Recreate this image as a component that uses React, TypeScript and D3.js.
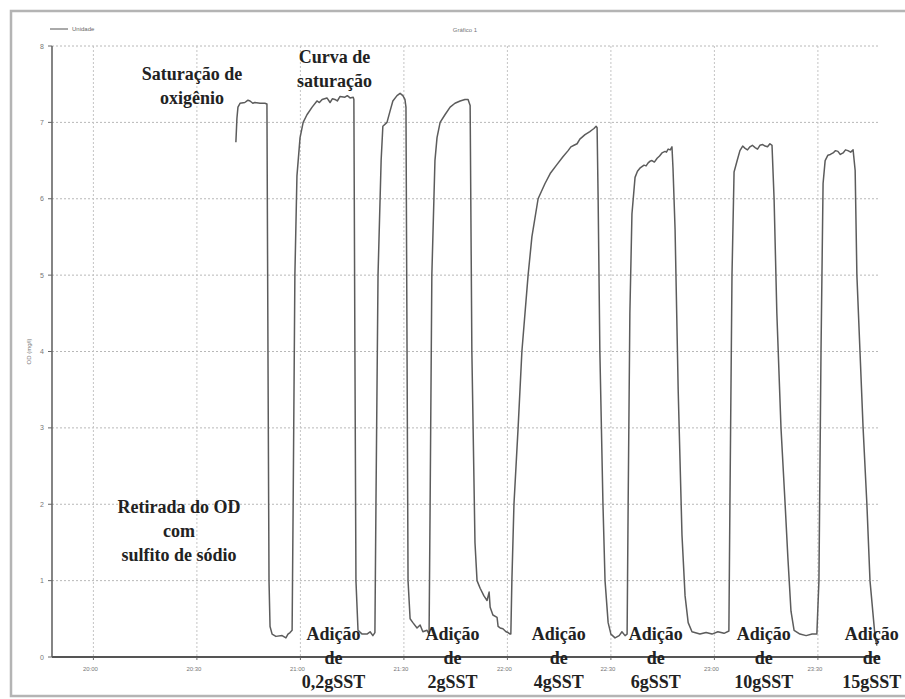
import React from "react";
import * as d3 from "d3";

// Time of each reading, in minutes after 20:00
const minutesAfter20h: number[] = [
  41.3, 41.6, 41.9, 42.5, 43.9, 44.8, 45.4, 46.2, 46.8, 48.3, 49.7, 50.3,
  50.6, 50.9, 51.2, 51.8, 52.9, 54.7, 55.8, 56.4, 57.0, 57.6,
  57.9, 58.4, 59.0, 59.9, 60.8, 61.9, 63.4, 64.8, 65.5, 66.3, 67.7, 68.6, 69.3, 70.0, 70.7, 71.5, 72.9, 73.6, 74.4, 75.3, 75.5,
  75.8, 76.1, 76.7, 77.9, 79.3, 80.2, 81.0, 81.6,
  81.9, 82.5, 83.4, 83.9, 85.1, 86.0, 86.8, 88.0, 88.9, 89.7, 90.3, 90.6,
  91.2, 91.8, 92.6, 93.8, 94.7, 95.5, 96.7, 97.3,
  97.6, 98.1, 99.0, 99.6, 100.5, 101.9, 103.4, 104.8, 106.3, 107.7, 108.6, 109.2,
  109.7, 110.6, 111.2, 112.1, 113.2, 114.1, 114.7, 115.0, 115.8, 117.0, 117.3, 117.9, 118.7, 119.6, 120.2, 120.8,
  121.0, 121.3, 121.9, 123.1, 124.2, 126.0, 127.1, 128.9, 130.9, 132.4, 134.4, 136.1, 137.6, 138.4, 139.3, 140.2, 141.0, 142.5, 143.9, 144.5, 145.1, 145.7, 146.0,
  146.3, 146.8, 147.7, 148.3, 149.2, 150.0, 151.2, 152.4, 153.2, 154.1, 154.7,
  155.0, 155.5, 156.1, 157.0, 157.7, 158.4, 159.0, 159.6, 160.2, 160.8, 161.3, 161.9, 162.6, 163.4, 164.1, 164.8, 165.7, 166.1, 166.6, 167.2, 167.7,
  168.0, 168.6, 169.5, 170.6, 171.5, 172.4, 173.5, 175.8, 177.6, 179.3, 181.0, 182.8, 184.2,
  184.5, 185.1, 185.7, 186.6, 187.4, 188.2, 188.9, 189.6, 190.3, 191.0, 191.8, 192.5, 193.2, 194.0, 194.7, 195.4, 196.1, 196.7,
  197.3, 198.1, 199.3, 200.5, 201.3, 202.2, 203.1, 204.8, 206.6, 208.3, 209.7,
  210.3, 210.9, 211.5, 212.1, 212.9, 213.6, 214.4, 215.1, 215.8, 216.5, 217.3, 218.0, 218.7, 219.5, 220.2,
  220.8, 221.3, 222.2, 223.1, 224.2, 225.1, 226.6, 227.1,
];

// Dissolved oxygen (mg/l)
const odMgL: number[] = [
  6.74, 7.05, 7.2, 7.25, 7.26, 7.29, 7.28, 7.25, 7.26, 7.25, 7.25, 7.24,
  4.0, 1.0, 0.4, 0.3, 0.27, 0.28, 0.25, 0.3, 0.32, 0.35,
  2.0, 5.0, 6.3, 6.8, 7.0, 7.1, 7.2, 7.28, 7.26, 7.3, 7.32, 7.26, 7.31, 7.3, 7.28, 7.34, 7.33, 7.35, 7.32, 7.33, 7.3,
  4.0, 1.0, 0.35, 0.3, 0.3, 0.33, 0.28, 0.32,
  2.0, 5.0, 6.5, 6.95, 7.0, 7.15, 7.28, 7.35, 7.38, 7.35, 7.3, 7.2,
  1.0, 0.5, 0.45, 0.38, 0.42, 0.33, 0.35, 0.3,
  2.0, 5.0, 6.5, 6.8, 7.0, 7.1, 7.2, 7.25, 7.28, 7.3, 7.3, 7.22,
  4.0, 1.5, 1.0, 0.9, 0.8, 0.74, 0.85, 0.65, 0.55, 0.52, 0.4, 0.38, 0.37, 0.33, 0.32, 0.3,
  0.3, 1.0, 2.0, 3.0, 4.0, 5.0, 5.5, 6.0, 6.2, 6.33, 6.45, 6.55, 6.63, 6.68, 6.7, 6.72, 6.78, 6.84, 6.88, 6.9, 6.92, 6.95, 6.93,
  6.0, 4.0, 2.0, 1.0, 0.45, 0.3, 0.25, 0.28, 0.33, 0.28, 0.3,
  2.0, 4.5, 5.8, 6.28, 6.36, 6.4, 6.42, 6.44, 6.43, 6.47, 6.49, 6.5, 6.48, 6.53, 6.56, 6.6, 6.62, 6.61, 6.65, 6.64, 6.68,
  6.4, 5.6, 3.5, 1.6, 0.8, 0.45, 0.33, 0.3, 0.32, 0.3, 0.33, 0.31, 0.34,
  2.0, 5.0, 6.35, 6.5, 6.63, 6.69, 6.66, 6.64, 6.68, 6.7, 6.67, 6.65, 6.7, 6.71, 6.69, 6.68, 6.72, 6.7,
  6.0, 4.5, 3.0, 2.0, 1.3, 0.6, 0.35, 0.3, 0.28, 0.3, 0.3,
  1.0, 4.0, 6.2, 6.5, 6.57, 6.58, 6.6, 6.63, 6.62, 6.58, 6.6, 6.64, 6.63, 6.61, 6.64,
  6.37, 5.0, 4.0, 3.0, 2.0, 1.0, 0.25, 0.15,
];

const yTicks: number[] = [0, 1, 2, 3, 4, 5, 6, 7, 8];
const xTickLabels: string[] = ["20:00", "20:30", "21:00", "21:30", "22:00", "22:30", "23:00", "23:30"];

// Annotations: text lines with the time (minutes after 20:00) and OD where they sit
const noteLines: string[][] = [
  ["Saturação de", "oxigênio"],
  ["Curva de", "saturação"],
  ["Retirada do OD", "com", "sulfito de sódio"],
  ["Adição", "de", "0,2gSST"],
  ["Adição", "de", "2gSST"],
  ["Adição", "de", "4gSST"],
  ["Adição", "de", "6gSST"],
  ["Adição", "de", "10gSST"],
  ["Adição", "de", "15gSST"],
];
const noteMinutes: number[] = [28.6, 69.9, 24.8, 69.6, 104.1, 134.9, 163.0, 194.3, 225.6];
const noteOD: number[] = [7.56, 7.78, 1.89, 0.22, 0.22, 0.22, 0.22, 0.22, 0.22];

const base = new Date(2000, 0, 1, 20, 0, 0);
const toDate = (m: number) => new Date(base.getTime() + m * 60000);
const parseHM = (s: string) => {
  const [h, mm] = s.split(":").map(Number);
  return new Date(2000, 0, 1, h, mm, 0);
};

export default function App() {
  const W = 905;
  const H = 699;
  const left = 52;
  const right = 880;
  const top = 46;
  const bottom = 657;

  const x = d3
    .scaleTime()
    .domain([toDate(-12), toDate(228)])
    .range([left, right]);
  const y = d3.scaleLinear().domain([0, 8]).range([bottom, top]);

  const pts = minutesAfter20h.map((m, i) => [toDate(m), odMgL[i]] as [Date, number]);
  const line = d3
    .line<[Date, number]>()
    .x((d) => x(d[0]))
    .y((d) => y(d[1]));

  const fmt = d3.timeFormat("%H:%M");
  const xTicks = xTickLabels.map(parseHM);
  const lineH = 24;

  return (
    <svg
      width={W}
      height={H}
      style={{ position: "absolute", left: 0, top: 0, background: "#fff" }}
    >
      <rect x={0} y={0} width={W} height={H} fill="#fff" />
      {/* outer frame */}
      <rect x={11} y={11} width={905} height={685} fill="none" stroke="#b4b4b4" strokeWidth={2.5} />

      {/* legend + title */}
      <line x1={50} x2={68} y1={29} y2={29} stroke="#555" strokeWidth={1} />
      <text x={72} y={31} fontSize={6} fill="#666" fontFamily="Liberation Sans, Arial">Unidade</text>
      <text x={465} y={32} fontSize={6} fill="#777" textAnchor="middle" fontFamily="Liberation Sans, Arial">Gráfico 1</text>

      {/* grid */}
      {yTicks.filter((t) => t > 0).map((t) => (
        <line key={"gy" + t} x1={left} x2={right} y1={y(t)} y2={y(t)} stroke="#b8b8b8" strokeWidth={1} strokeDasharray="2,2" />
      ))}
      {xTicks.map((t, i) => (
        <line key={"gx" + i} x1={x(t)} x2={x(t)} y1={top} y2={bottom} stroke="#c4c4c4" strokeWidth={1} strokeDasharray="2,2" />
      ))}

      {/* axes */}
      <line x1={left} x2={left} y1={top} y2={bottom} stroke="#666" strokeWidth={1.6} />
      <line x1={left} x2={right} y1={bottom} y2={bottom} stroke="#555" strokeWidth={2} />
      {yTicks.map((t) => (
        <g key={"yt" + t}>
          <line x1={left - 4} x2={left} y1={y(t)} y2={y(t)} stroke="#666" strokeWidth={1} />
          <text x={left - 8} y={y(t) + 2.5} fontSize={7} fill="#777" textAnchor="end" fontFamily="Liberation Sans, Arial">{t}</text>
        </g>
      ))}
      {xTicks.map((t, i) => (
        <g key={"xt" + i}>
          <line x1={x(t)} x2={x(t)} y1={bottom} y2={bottom + 3} stroke="#666" strokeWidth={1} />
          <text x={x(t) - 3} y={bottom + 14} fontSize={6} fill="#777" textAnchor="middle" fontFamily="Liberation Sans, Arial">{fmt(t)}</text>
        </g>
      ))}
      <text
        transform={`translate(31,${(top + bottom) / 2}) rotate(-90)`}
        fontSize={6}
        fill="#777"
        textAnchor="middle"
        fontFamily="Liberation Sans, Arial"
      >
        OD (mg/l)
      </text>

      {/* series */}
      <path d={line(pts) || ""} fill="none" stroke="#5c5c5c" strokeWidth={1.5} strokeLinejoin="round" />

      {/* annotations */}
      {noteLines.map((lines, i) => (
        <text
          key={"n" + i}
          x={x(toDate(noteMinutes[i]))}
          y={y(noteOD[i])}
          fontSize={18}
          fontWeight="bold"
          fill="#222"
          textAnchor="middle"
          fontFamily="Liberation Serif, Times New Roman, serif"
        >
          {lines.map((l, j) => (
            <tspan key={j} x={x(toDate(noteMinutes[i]))} dy={j === 0 ? 0 : lineH}>
              {l}
            </tspan>
          ))}
        </text>
      ))}
    </svg>
  );
}
